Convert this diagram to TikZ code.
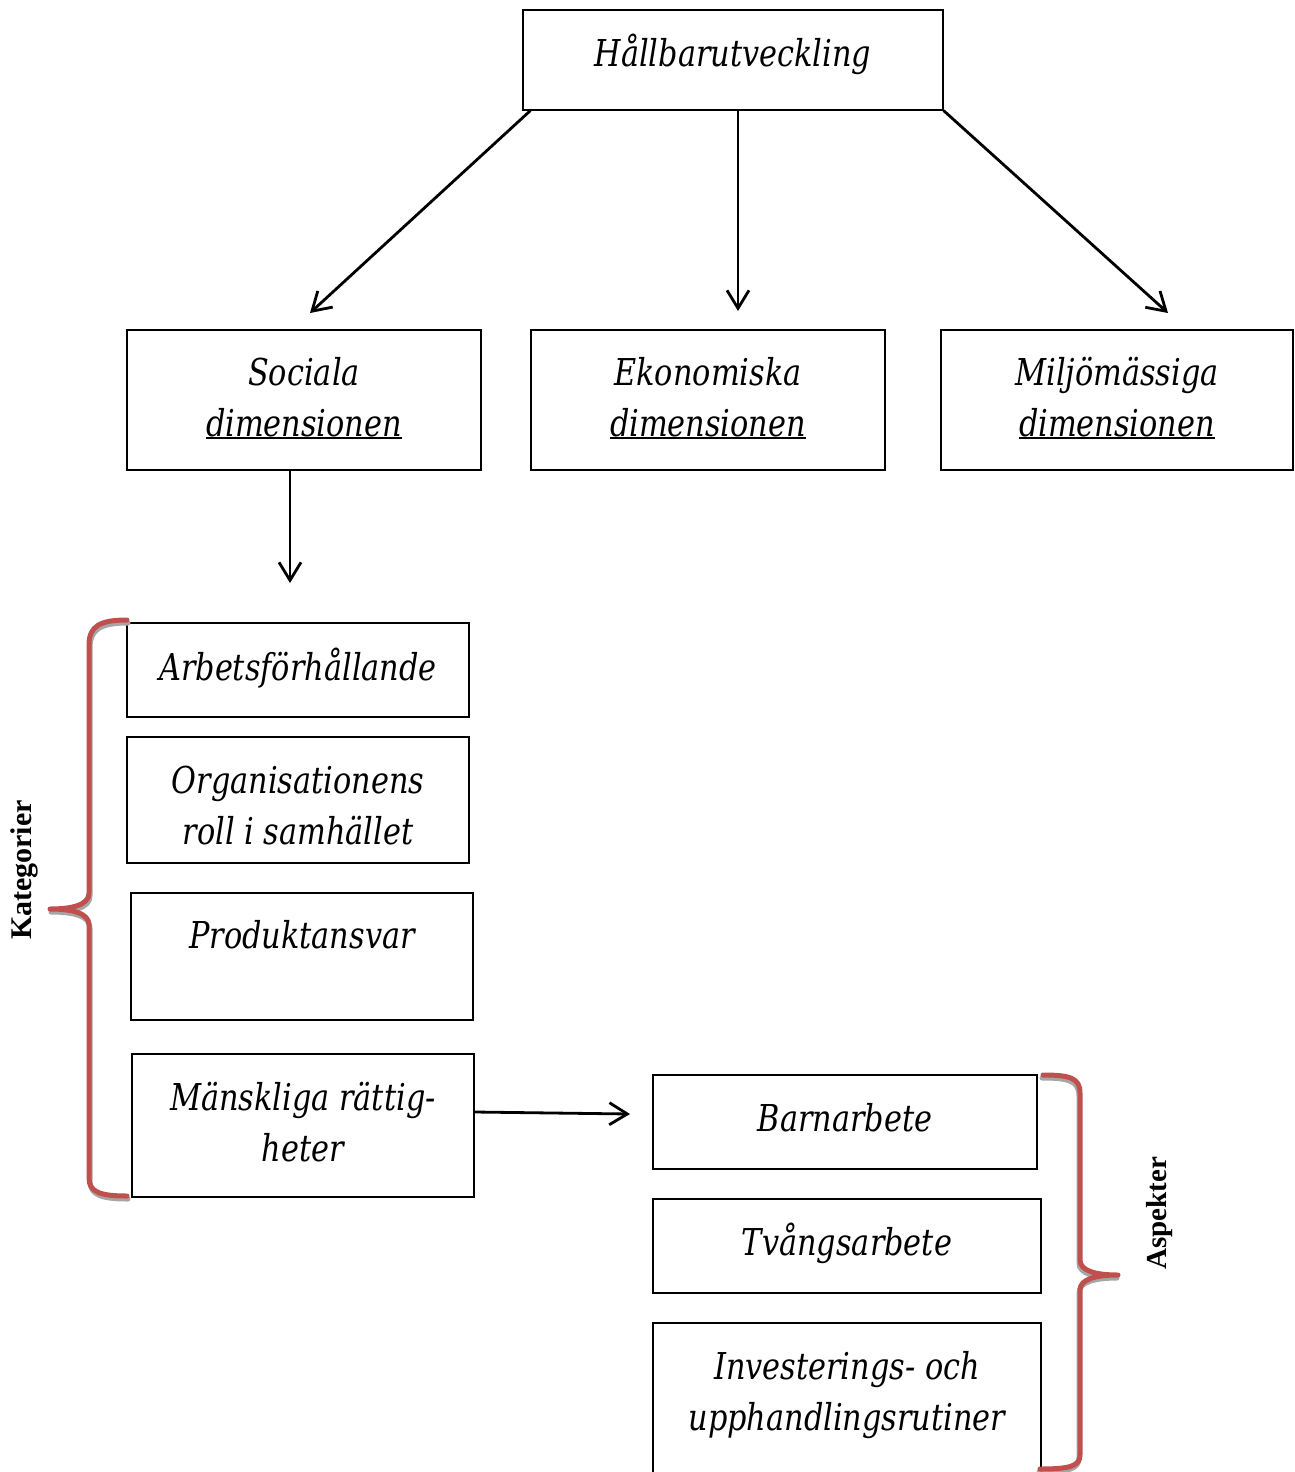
\documentclass[tikz,border=0pt]{standalone}
\usepackage{fontspec}
\setmainfont{DejaVu Serif}[FakeStretch=0.82]
\newfontfamily\lblfont{Liberation Serif}
\usetikzlibrary{arrows.meta}
\definecolor{bracered}{HTML}{C0504D}
\definecolor{braceshadow}{HTML}{A6A6A6}
% underlined word with a heavier rule
\newcommand{\undl}[1]{\setbox0\hbox{#1}\rlap{\rule[-3pt]{\wd0}{1.8pt}}\box0}
% box text: first baseline sits #1 above the box centre
\newcommand{\bx}[2]{\raisebox{#1}[0pt][0pt]{\begin{tabular}[t]{@{}c@{}}#2\end{tabular}}}
\tikzset{
  box/.style={draw, line width=1.1pt, inner sep=0pt,
    font=\itshape\fontsize{37}{51}\selectfont},
  arr/.style={line width=2.8pt, -{Straight Barb[length=18pt,width=22pt,line width=2.8pt]}},
  bracepath/.style={line width=5pt, line cap=round, line join=round},
  lbl/.style={rotate=90, font=\lblfont\bfseries\fontsize{30}{36}\selectfont}
}
\begin{document}
\begin{tikzpicture}[x=1pt,y=-1pt]
\useasboundingbox (0,0) rectangle (1294,1472);

% top level
\node[box, minimum width=420pt, minimum height=100pt] (top) at (733,60) {\bx{-6.5pt}{Hållbarutveckling}};

% dimensions
\node[box, minimum width=354pt, minimum height=140pt] (soc) at (304,400) {\bx{15pt}{Sociala\\\undl{dimensionen}}};
\node[box, minimum width=354pt, minimum height=140pt] (eko) at (708,400) {\bx{15pt}{Ekonomiska\\\undl{dimensionen}}};
\node[box, minimum width=352pt, minimum height=140pt] (mil) at (1117,400) {\bx{15pt}{Miljömässiga\\\undl{dimensionen}}};

% categories
\node[box, minimum width=342pt, minimum height=94pt] (arb) at (298,670) {\bx{-10pt}{Arbetsförhållande}};
\node[box, minimum width=342pt, minimum height=126pt] (org) at (298,800) {\bx{7pt}{Organisationens\\roll i samhället}};
\node[box, minimum width=342pt, minimum height=127pt] (pro) at (302,956.5) {\bx{8pt}{Produktansvar}};
\node[box, minimum width=342pt, minimum height=143pt] (man) at (303,1125.5) {\bx{15pt}{Mänskliga rättig-\\heter}};

% aspects
\node[box, minimum width=384pt, minimum height=94pt] (bar) at (845,1122) {\bx{-9pt}{Barnarbete}};
\node[box, minimum width=388pt, minimum height=94pt] (tva) at (847,1246) {\bx{-9.5pt}{Tvångsarbete}};
\node[box, minimum width=388pt, minimum height=186pt] (inv) at (847,1416) {\bx{37pt}{Investerings- och\\upphandlingsrutiner}};

% arrow ends
\coordinate (tsoc) at (310,313);
\coordinate (teko) at (738,311);
\coordinate (tmil) at (1168,313);
\coordinate (tcat) at (290,583);
\coordinate (tasp) at (630,1114);

\draw[arr] ([xshift=8pt]top.south west) -- (tsoc);
\draw[arr] ([xshift=5pt]top.south) -- (teko);
\draw[arr] (top.south east) -- (tmil);
\draw[arr] ([xshift=-14pt]soc.south) -- (tcat);
\draw[arr] ([yshift=13.5pt]man.east) -- (tasp);

% left brace (shadow, then red)
\foreach \c/\dx/\dy in {braceshadow/1/3, bracered/0/0}{
  \draw[bracepath, \c, shift={(\dx,\dy)}]
    (127,620) .. controls (100,620) and (89,626) .. (89,645)
    -- (89,893) .. controls (89,905) and (72,909) .. (50,909)
    .. controls (72,909) and (89,913) .. (89,925)
    -- (89,1178) .. controls (89,1192) and (100,1196) .. (127,1196);
}
% right brace (shadow, then red)
\foreach \c/\dx/\dy in {braceshadow/-1/3, bracered/0/0}{
  \draw[bracepath, \c, shift={(\dx,\dy)}]
    (1043,1075) .. controls (1070,1075) and (1080,1078) .. (1080,1093)
    -- (1080,1260) .. controls (1080,1271) and (1096,1275) .. (1118,1275)
    .. controls (1096,1275) and (1080,1279) .. (1080,1290)
    -- (1080,1455) .. controls (1080,1466) and (1070,1469) .. (1040,1469);
}

\node[lbl] (kat) at (24,870) {Kategorier};
\node[lbl, font=\lblfont\bfseries\fontsize{29}{34}\selectfont] (asp) at (1160,1213) {Aspekter};
\end{tikzpicture}
\end{document}
